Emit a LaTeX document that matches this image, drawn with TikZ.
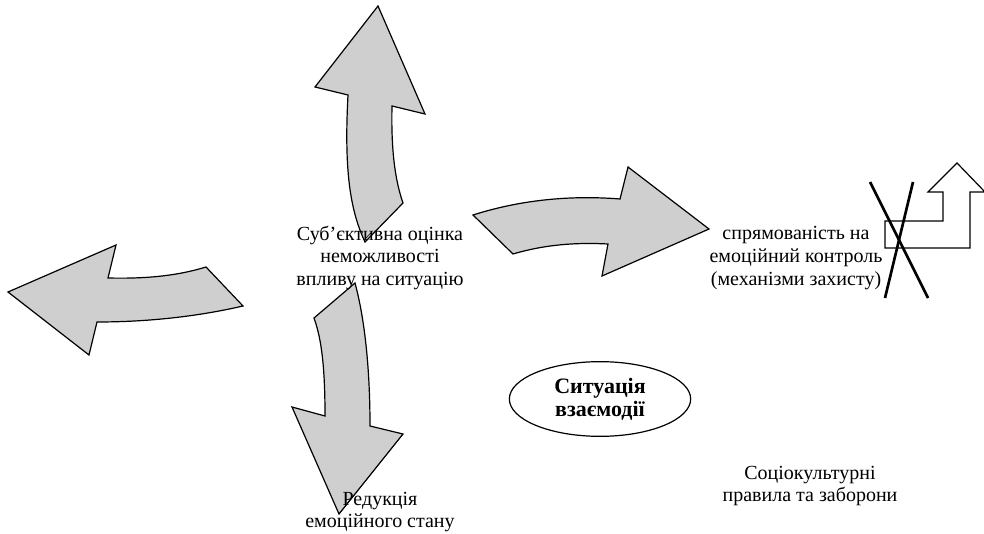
\documentclass[tikz,border=0pt]{standalone}
\usepackage{fontspec}
\setmainfont{Liberation Serif}
\usetikzlibrary{shapes.geometric}
\tikzset{
  blockarrow/.style={draw=black, fill=black!19, line width=0.9pt, line join=miter},
  textnode/.style={align=center, font=\fontsize{15}{17}\selectfont, inner sep=0pt},
}
\begin{document}
\begin{tikzpicture}[x=0.75pt,y=-0.75pt]
\useasboundingbox (0,0) rectangle (984,534);
% up
\draw[blockarrow] (365,242) .. controls (350,210) and (344,170) .. (348,95) -- (315,87) -- (378,6) -- (425,114) -- (392,106) .. controls (391,150) and (395,180) .. (403,203) -- cycle;
% right
\draw[blockarrow] (473,215) .. controls (520,200) and (570,195) .. (620,199) -- (628,167) -- (709,229) -- (602,276) -- (608,244) .. controls (570,242) and (540,246) .. (513,254) -- cycle;
% left
\draw[blockarrow] (8,292) -- (116,245) -- (108,278) .. controls (150,279) and (180,275) .. (206,267) -- (243,306) .. controls (200,316) and (150,322) .. (97,322) -- (89,355) -- cycle;
% down
\draw[blockarrow] (314,318) -- (355,283) .. controls (365,320) and (370,370) .. (370,426) -- (403,434) -- (339,514) -- (292,407) -- (325,416) .. controls (325,370) and (322,340) .. (314,318) -- cycle;
% bent arrow, crossed out
\draw[line width=0.9pt, fill=white] (885,221) -- (943,221) -- (943,192) -- (928,192) -- (957,163) -- (985,192) -- (970,192) -- (970,248) -- (885,248) -- cycle;
\draw[line width=2pt] (870,182) -- (928,298);
\draw[line width=2pt] (913,182) -- (885,298);
% texts
\node[textnode] (assess) at (380,258) {Суб’єктивна оцінка\\неможливості\\впливу на ситуацію};
\node[textnode] (control) at (796,258) {спрямованість на\\емоційний контроль\\(механізми захисту)};
\node[textnode] (reduce) at (380,512) {Редукція\\емоційного стану};
\node[textnode] (rules) at (810,486) {Соціокультурні\\правила та заборони};
\node[draw, ellipse, line width=0.9pt, minimum width=136pt, minimum height=56pt, textnode, font=\fontsize{16.5}{17.5}\selectfont\bfseries] (situation) at (600,399) {Ситуація\\взаємодії};
\end{tikzpicture}
\end{document}
